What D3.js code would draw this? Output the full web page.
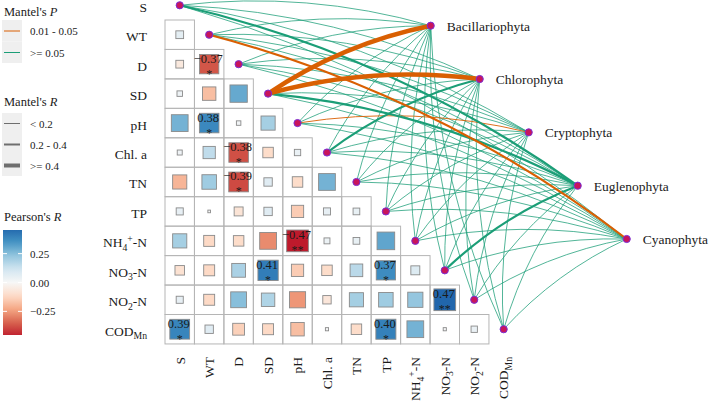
<!DOCTYPE html>
<html>
<head>
<meta charset="utf-8">
<script src="https://cdn.jsdelivr.net/npm/d3@7"></script>
<style>
body { margin: 0; background: #fff; }
svg { display: block; }
svg text { font-family: "Liberation Serif", "Times New Roman", serif; }
</style>
</head>
<body>
<svg id="chart" width="709" height="406"></svg>
<script>
// environmental variables (matrix rows / columns)
var vars = ["S", "WT", "D", "SD", "pH", "Chl. a", "TN", "TP", "NH4+-N", "NO3-N", "NO2-N", "CODMn"];
var varParts = {
    "NH4+-N": [["NH", ""], ["4", "sub"], ["+", "sup"], ["-N", ""]],
    "NO3-N": [["NO", ""], ["3", "sub"], ["-N", ""]],
    "NO2-N": [["NO", ""], ["2", "sub"], ["-N", ""]],
    "CODMn": [["COD", ""], ["Mn", "sub"]]
};

// Pearson's r, lower triangle: row i (vars[i]) against vars[0..i-1]
var corrWT   = [0.06];
var corrD    = [-0.06, -0.37];
var corrSD   = [0.03, -0.18, 0.30];
var corrPH   = [0.28, 0.38, 0.02, 0.20];
var corrChl  = [0.025, 0.15, -0.38, -0.11, 0.04];
var corrTN   = [-0.20, 0.21, -0.39, 0.07, -0.11, 0.28];
var corrTP   = [0.05, 0.007, -0.08, 0.07, -0.15, 0.05, 0.045];
var corrNH4  = [0.20, -0.12, -0.11, -0.28, -0.47, 0.035, 0.045, 0.31];
var corrNO3  = [-0.09, -0.12, 0.19, 0.41, -0.15, -0.11, 0.16, 0.37, 0.08];
var corrNO2  = [0.05, -0.12, 0.25, 0.18, -0.26, -0.07, 0.20, 0.21, 0.23, 0.47];
var corrCOD  = [0.39, 0.07, -0.14, -0.12, -0.18, 0.01, -0.11, 0.40, 0.28, 0.01, 0.04];
var corrRows = [corrWT, corrD, corrSD, corrPH, corrChl, corrTN, corrTP, corrNH4, corrNO3, corrNO2, corrCOD];

// significant cells: [row var, col var, stars]
var sigCells = [
    ["D", "WT", "*"], ["pH", "WT", "*"], ["Chl. a", "D", "*"], ["TN", "D", "*"],
    ["NH4+-N", "pH", "**"], ["NO3-N", "SD", "*"], ["NO3-N", "TP", "*"],
    ["NO2-N", "NO3-N", "**"], ["CODMn", "S", "*"], ["CODMn", "TP", "*"]
];

// Mantel test
var species = ["Bacillariophyta", "Chlorophyta", "Cryptophyta", "Euglenophyta", "Cyanophyta"];
var rClasses = ["< 0.2", "0.2 - 0.4", ">= 0.4"];
var pClasses = ["0.01 - 0.05", ">= 0.05"];
// Mantel's R class index per species, in the order of vars
var mantelR = [
    [0, 0, 0, 2, 0, 0, 0, 0, 0, 0, 0, 0],
    [0, 0, 0, 2, 0, 1, 0, 0, 0, 0, 0, 0],
    [0, 0, 0, 0, 0, 0, 0, 0, 0, 0, 0, 0],
    [1, 0, 0, 1, 0, 0, 0, 0, 0, 1, 0, 0],
    [0, 1, 0, 0, 0, 0, 0, 0, 0, 0, 0, 0]
];
// Mantel's P class index per species, in the order of vars
var mantelP = [
    [1, 1, 1, 0, 1, 1, 1, 1, 1, 1, 1, 1],
    [1, 1, 1, 0, 1, 1, 1, 1, 1, 1, 1, 1],
    [1, 1, 1, 1, 0, 1, 1, 1, 1, 1, 1, 1],
    [1, 1, 1, 1, 1, 1, 1, 1, 1, 1, 1, 1],
    [1, 0, 1, 1, 1, 1, 1, 1, 1, 1, 1, 1]
];
var colorTicks = [0.25, 0, -0.25];

var svg = d3.select("#chart");
var cell = 29.45, x0 = 165, y0 = -9.45;

var x = d3.scaleBand().domain(vars).range([x0, x0 + cell * vars.length]);
var y = d3.scaleBand().domain(vars).range([y0, y0 + cell * vars.length]);
var sx = d3.scalePoint().domain(species).range([430.7, 626.7]);
var sy = d3.scalePoint().domain(species).range([25.7, 239]);

var fill = d3.scaleLinear()
    .domain([-0.47, -0.3525, -0.235, -0.1175, 0, 0.1175, 0.235, 0.3525, 0.47])
    .range(["#BE1A2C", "#D6604D", "#F4A582", "#FDDBC7", "#F7F7F7", "#D1E5F0", "#92C5DE", "#4393C3", "#2166AC"])
    .clamp(true);
var side = d3.scaleSqrt().domain([0, 0.47]).range([0, 21.7]);
var pColor = d3.scaleOrdinal().domain(pClasses).range(["#D95F02", "#1B9E77"]);
var rWidth = d3.scaleOrdinal().domain(rClasses).range([0.9, 2.2, 4.6]);

// rich label: first tspan keeps dy 0 so the text's own y holds the offset
function setLabel(text, name) {
    var parts = varParts[name] || [[name, ""]];
    text.text(null).attr("dy", null);
    var shift = 0;
    parts.forEach(function (p) {
        var target = p[1] === "sub" ? 3.5 : p[1] === "sup" ? -5 : 0;
        var t = text.append("tspan").text(p[0]);
        if (target - shift !== 0) t.attr("dy", target - shift);
        if (p[1]) t.attr("font-size", "0.72em");
        shift = target;
    });
}

// ---- mantel links
var links = [];
species.forEach(function (s, k) {
    vars.forEach(function (v, i) {
        links.push({ spec: s, env: v, rd: rClasses[mantelR[k][i]], pd: pClasses[mantelP[k][i]] });
    });
});
links.sort(function (a, b) {
    return (rClasses.indexOf(a.rd) - rClasses.indexOf(b.rd)) || (pClasses.indexOf(b.pd) - pClasses.indexOf(a.pd));
});
function envX(v) { return x(v) + x.bandwidth() / 2; }
function envY(v) { return y(v) + y.bandwidth() / 2; }
svg.append("g").selectAll("path").data(links).enter().append("path")
    .attr("d", function (d) {
        var ex = envX(d.env), ey = envY(d.env), tx = sx(d.spec), ty = sy(d.spec);
        var dx = tx - ex, dy = ty - ey;
        var cx = (ex + tx) / 2 + 0.1 * dy, cy = (ey + ty) / 2 - 0.1 * dx;
        return "M" + ex + "," + ey + "Q" + cx + "," + cy + " " + tx + "," + ty;
    })
    .attr("fill", "none")
    .attr("stroke", function (d) { return pColor(d.pd); })
    .attr("stroke-width", function (d) { return rWidth(d.rd); })
    .attr("stroke-opacity", function (d) { return d.pd === ">= 0.05" && d.rd === "< 0.2" ? 0.85 : 1; });

// ---- correlation matrix
var cells = [];
corrRows.forEach(function (row, k) {
    row.forEach(function (r, j) {
        cells.push({ row: vars[k + 1], col: vars[j], r: r });
    });
});
var gCell = svg.append("g");
gCell.selectAll("rect.grid").data(cells).enter().append("rect")
    .attr("class", "grid")
    .attr("x", function (d) { return x(d.col); })
    .attr("y", function (d) { return y(d.row); })
    .attr("width", x.bandwidth())
    .attr("height", y.bandwidth())
    .attr("fill", "none")
    .attr("stroke", "#b5b5b5")
    .attr("stroke-width", 1);
gCell.selectAll("rect.sq").data(cells).enter().append("rect")
    .attr("class", "sq")
    .attr("x", function (d) { return envX(d.col) - side(Math.abs(d.r)) / 2; })
    .attr("y", function (d) { return envY(d.row) - side(Math.abs(d.r)) / 2; })
    .attr("width", function (d) { return side(Math.abs(d.r)); })
    .attr("height", function (d) { return side(Math.abs(d.r)); })
    .attr("fill", function (d) { return fill(d.r); })
    .attr("stroke", "#8a8a8a")
    .attr("stroke-width", 0.9);

var sig = sigCells.map(function (s) {
    var i = vars.indexOf(s[0]), j = vars.indexOf(s[1]);
    return { row: s[0], col: s[1], r: corrRows[i - 1][j], stars: s[2] };
});
gCell.selectAll("text.val").data(sig).enter().append("text")
    .attr("class", "val")
    .attr("x", function (d) { return envX(d.col) - 1; })
    .attr("y", function (d) { return envY(d.row) - 1.5; })
    .attr("text-anchor", "middle")
    .attr("font-size", 12.5)
    .attr("fill", "#1a1a1a")
    .text(function (d) { return d3.format(".2f")(d.r); });
gCell.selectAll("text.star").data(sig).enter().append("text")
    .attr("class", "star")
    .attr("x", function (d) { return envX(d.col); })
    .attr("y", function (d) { return envY(d.row) + 13.5; })
    .attr("text-anchor", "middle")
    .attr("font-size", 12)
    .attr("fill", "#1a1a1a")
    .text(function (d) { return d.stars; });

// ---- nodes
var nodes = vars.map(function (v) { return [envX(v), envY(v)]; })
    .concat(species.map(function (s) { return [sx(s), sy(s)]; }));
svg.append("g").selectAll("circle").data(nodes).enter().append("circle")
    .attr("cx", function (d) { return d[0]; })
    .attr("cy", function (d) { return d[1]; })
    .attr("r", 3.6)
    .attr("fill", "#c8155b")
    .attr("stroke", "#7b2fd6")
    .attr("stroke-width", 1);

svg.append("g").selectAll("text").data(species).enter().append("text")
    .attr("x", function (s) { return sx(s) + 16; })
    .attr("y", function (s) { return sy(s) + 5; })
    .attr("font-size", 13.5)
    .attr("fill", "#1a1a1a")
    .text(function (s) { return s; });

// ---- axes
var yAxis = svg.append("g").attr("transform", "translate(147,0)")
    .call(d3.axisLeft(y).tickSize(0).tickPadding(0));
yAxis.attr("font-family", null).attr("font-size", 13.5);
yAxis.select(".domain").remove();
yAxis.selectAll("text").attr("fill", "#1a1a1a")
    .attr("y", 6.5)
    .each(function (v) { setLabel(d3.select(this), v); });

var xAxis = svg.append("g").attr("transform", "translate(0,350)")
    .call(d3.axisBottom(x).tickSize(0));
xAxis.attr("font-family", null).attr("font-size", 13.5);
xAxis.select(".domain").remove();
xAxis.selectAll("text").attr("fill", "#1a1a1a")
    .attr("transform", "rotate(-90)")
    .attr("text-anchor", "end")
    .attr("x", -7).attr("y", 4.8)
    .each(function (v) { setLabel(d3.select(this), v); });

// ---- legends
var leg = svg.append("g").attr("fill", "#1a1a1a");
function legendTitle(yy, base, ital) {
    var t = leg.append("text").attr("x", 4).attr("y", yy).attr("font-size", 12.5);
    t.append("tspan").text(base);
    t.append("tspan").attr("font-style", "italic").text(ital);
}
legendTitle(16, "Mantel's ", "P");
pClasses.forEach(function (p, i) {
    var ky = 20 + i * 21.5;
    leg.append("rect").attr("x", 2).attr("y", ky).attr("width", 20).attr("height", 21.5).attr("fill", "#efefef");
    leg.append("line").attr("x1", 4).attr("x2", 20).attr("y1", ky + 11).attr("y2", ky + 11)
        .attr("stroke", pColor(p)).attr("stroke-width", 1);
    leg.append("text").attr("x", 30).attr("y", ky + 15).attr("font-size", 11).text(p);
});
legendTitle(106, "Mantel's ", "R");
rClasses.forEach(function (r, i) {
    var ky = 113 + i * 21;
    leg.append("rect").attr("x", 2).attr("y", ky).attr("width", 20).attr("height", 21).attr("fill", "#efefef");
    leg.append("line").attr("x1", 4).attr("x2", 20).attr("y1", ky + 10.5).attr("y2", ky + 10.5)
        .attr("stroke", "#6e6e6e").attr("stroke-width", [1, 2, 4][i]);
    leg.append("text").attr("x", 30).attr("y", ky + 14.5).attr("font-size", 11).text(r);
});
legendTitle(221, "Pearson's ", "R");

var cb = d3.scaleLinear().domain([-0.455, 0.455]).range([335, 230]);
var grad = svg.append("defs").append("linearGradient").attr("id", "cbar")
    .attr("x1", 0).attr("y1", 1).attr("x2", 0).attr("y2", 0);
d3.range(0, 1.0001, 0.05).forEach(function (t) {
    grad.append("stop").attr("offset", t).attr("stop-color", fill(-0.455 + t * 0.91));
});
leg.append("rect").attr("x", 3).attr("y", 230).attr("width", 19).attr("height", 105).attr("fill", "url(#cbar)");
colorTicks.forEach(function (t) {
    leg.append("line").attr("x1", 3).attr("x2", 7).attr("y1", cb(t)).attr("y2", cb(t)).attr("stroke", "#fff");
    leg.append("line").attr("x1", 18).attr("x2", 22).attr("y1", cb(t)).attr("y2", cb(t)).attr("stroke", "#fff");
    leg.append("text").attr("x", 30).attr("y", cb(t) + 4).attr("font-size", 11).text(d3.format(".2f")(t));
});
</script>
</body>
</html>
